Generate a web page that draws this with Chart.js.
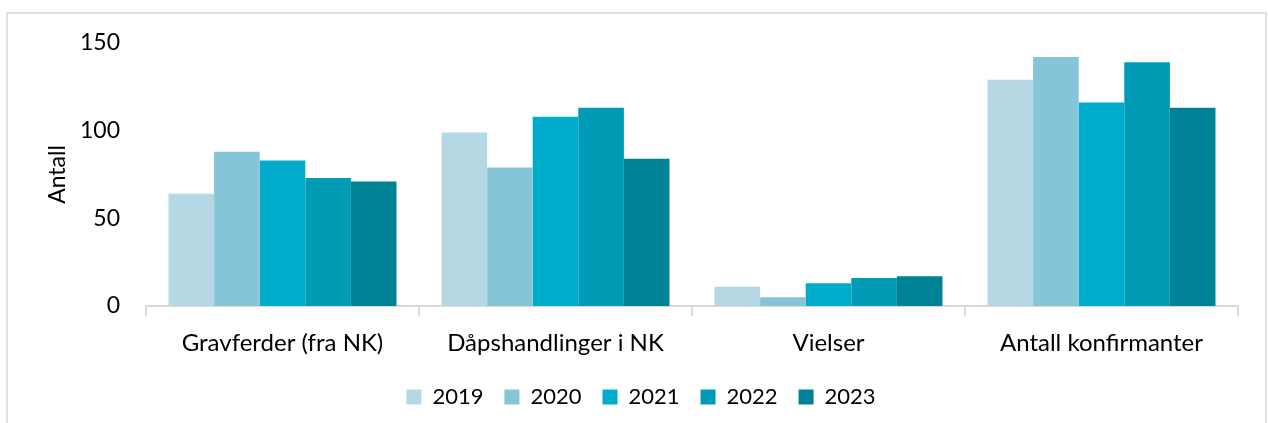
<!DOCTYPE html>
<html lang="no">
<head>
    <meta charset="UTF-8">
    <title>Kirkelige handlinger</title>
    <script src="https://cdn.jsdelivr.net/npm/chart.js"></script>
    <style>
        html, body {
            margin: 0;
            background: #fff;
        }
        #wrap {
            width: 1268px;
            height: 423px;
        }
    </style>
</head>
<body>
    <div id="wrap">
        <canvas id="chart" width="1268" height="423"></canvas>
    </div>
    <script>
        const categories = ['Gravferder (fra NK)', 'Dåpshandlinger i NK', 'Vielser', 'Antall konfirmanter'];
        const years = ['2019', '2020', '2021', '2022', '2023'];
        const values2019 = [64, 99, 11, 129];
        const values2020 = [88, 79, 5, 142];
        const values2021 = [83, 108, 13, 116];
        const values2022 = [73, 113, 16, 139];
        const values2023 = [71, 84, 17, 113];
        const yTicks = [0, 50, 100, 150];

        const colors = ['#b4d8e4', '#86c4d7', '#00accb', '#009ab5', '#008296'];
        const series = [values2019, values2020, values2021, values2022, values2023];

        const fontFamily = 'Lato, "Open Sans", sans-serif';

        // light grey frame round the whole chart
        const framePlugin = {
            id: 'frame',
            beforeDraw(chart) {
                const c = chart.ctx;
                c.save();
                c.fillStyle = '#fff';
                c.fillRect(0, 0, chart.width, chart.height);
                c.strokeStyle = '#d9d9d9';
                c.lineWidth = 1.5;
                c.strokeRect(7, 13, 1259, 420);
                c.restore();
            }
        };

        new Chart(document.getElementById('chart'), {
            type: 'bar',
            data: {
                labels: categories,
                datasets: years.map((y, i) => ({
                    label: y,
                    data: series[i],
                    backgroundColor: colors[i],
                    borderWidth: 0,
                    categoryPercentage: 0.835,
                    barPercentage: 1
                }))
            },
            options: {
                responsive: false,
                animation: false,
                layout: {
                    // left padding keeps the legend centred on the frame
                    padding: { top: 43, right: 30, bottom: 5, left: 44 }
                },
                plugins: {
                    legend: {
                        position: 'bottom',
                        labels: {
                            boxWidth: 15,
                            boxHeight: 15,
                            padding: 21,
                            color: '#000',
                            font: { family: fontFamily, size: 22 }
                        }
                    },
                    tooltip: { enabled: false }
                },
                scales: {
                    x: {
                        grid: {
                            drawOnChartArea: false,
                            drawTicks: true,
                            tickLength: 10,
                            color: '#d9d9d9',
                            lineWidth: 2
                        },
                        border: { color: '#d9d9d9', width: 2 },
                        ticks: {
                            color: '#000',
                            padding: 13,
                            font: { family: fontFamily, size: 24 }
                        },
                        afterFit(scale) { scale.height = 59; }
                    },
                    y: {
                        min: 0,
                        max: 150,
                        afterBuildTicks(scale) {
                            scale.ticks = yTicks.map(v => ({ value: v }));
                        },
                        grid: { display: false },
                        border: { display: false },
                        ticks: {
                            color: '#000',
                            padding: 18,
                            font: { family: fontFamily, size: 23 }
                        },
                        title: {
                            display: true,
                            text: 'Antall',
                            color: '#000',
                            padding: { top: 0, bottom: 0 },
                            font: { family: fontFamily, size: 23 }
                        },
                        afterFit(scale) { scale.width = 102; }
                    }
                }
            },
            plugins: [framePlugin]
        });
    </script>
</body>
</html>
